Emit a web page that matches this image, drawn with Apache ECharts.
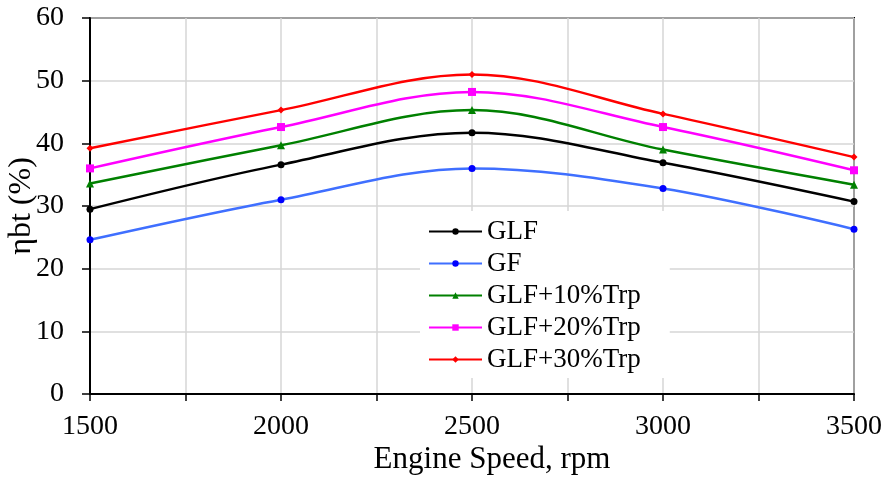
<!DOCTYPE html>
<html>
<head>
<meta charset="utf-8">
<script src="https://cdn.jsdelivr.net/npm/echarts@6/dist/echarts.min.js"></script>
<style>html,body{margin:0;padding:0;background:#fff}#c{width:887px;height:481px}</style>
</head>
<body>
<div id="c"></div>
<script>
const speeds = [1500, 2000, 2500, 3000, 3500];
const GLF = [29.5, 36.6, 41.7, 36.9, 30.7];
const GF = [24.6, 31.0, 36.0, 32.8, 26.3];
const GLF10 = [33.6, 39.7, 45.3, 39.0, 33.4];
const GLF20 = [36.0, 42.6, 48.2, 42.6, 35.7];
const GLF30 = [39.2, 45.3, 51.0, 44.7, 37.8];
const seriesNames = ['GLF', 'GF', 'GLF+10%Trp', 'GLF+20%Trp', 'GLF+30%Trp'];
const seriesData = [GLF, GF, GLF10, GLF20, GLF30];
const lineColors = ['#000000', '#3f6fff', '#008000', '#ff00ff', '#ff0000'];
const markColors = ['#000000', '#0000ff', '#008000', '#ff00ff', '#ff0000'];
const symbols = ['circle', 'circle', 'triangle', 'rect', 'diamond'];
const symbolSizes = [7, 7, 8, 8, 7];

const font = 'Liberation Serif';
const chart = echarts.init(document.getElementById('c'));
chart.setOption({
  animation: false,
  backgroundColor: '#fff',
  grid: { left: 90, right: 33, top: 18, bottom: 87, outerBoundsMode: 'none', containLabel: false,
    show: true, borderColor: '#000', borderWidth: 2, backgroundColor: 'transparent' },
  xAxis: {
    type: 'value', min: 1500, max: 3500, interval: 250,
    axisLine: { show: true, lineStyle: { color: '#000', width: 2 } },
    axisTick: { show: true, length: 7, lineStyle: { color: '#000', width: 1.5 } },
    axisLabel: { color: '#000', fontFamily: font, fontSize: 28, margin: 19,
      formatter: v => (v % 500 === 0 ? String(v) : '') },
    splitLine: { show: true, lineStyle: { color: '#d6d6d6', width: 1.5 } }
  },
  yAxis: {
    type: 'value', min: 0, max: 60, interval: 10,
    name: 'ηbt (%)', nameLocation: 'middle', nameGap: 52, nameMoveOverlap: false,
    nameTextStyle: { color: '#000', fontFamily: font, fontSize: 32 },
    axisLine: { show: true, lineStyle: { color: '#000', width: 2 } },
    axisTick: { show: true, length: 8, lineStyle: { color: '#000', width: 1.5 } },
    axisLabel: { color: '#000', fontFamily: font, fontSize: 28, margin: 26 },
    splitLine: { show: true, lineStyle: { color: '#d6d6d6', width: 1.5 } }
  },
  legend: {
    orient: 'vertical', left: 420, top: 211,
    backgroundColor: '#fff',
    padding: [7, 29, 5, 8],
    itemWidth: 53, itemHeight: 8, itemGap: 5,
    textStyle: { color: '#000', fontFamily: font, fontSize: 27 },
    data: seriesNames
  },
  graphic: [{
    type: 'text', x: 492, y: 460,
    style: { text: 'Engine Speed, rpm', fill: '#000', font: '31px "Liberation Serif"', align: 'center', verticalAlign: 'middle' }
  }],
  series: seriesNames.map((n, i) => ({
    name: n, type: 'line', smooth: 0.35,
    data: speeds.map((s, j) => [s, seriesData[i][j]]),
    symbol: symbols[i], symbolSize: symbolSizes[i], showSymbol: true,
    lineStyle: { color: lineColors[i], width: 2.5 },
    itemStyle: { color: markColors[i] }
  }))
});
</script>
</body>
</html>
